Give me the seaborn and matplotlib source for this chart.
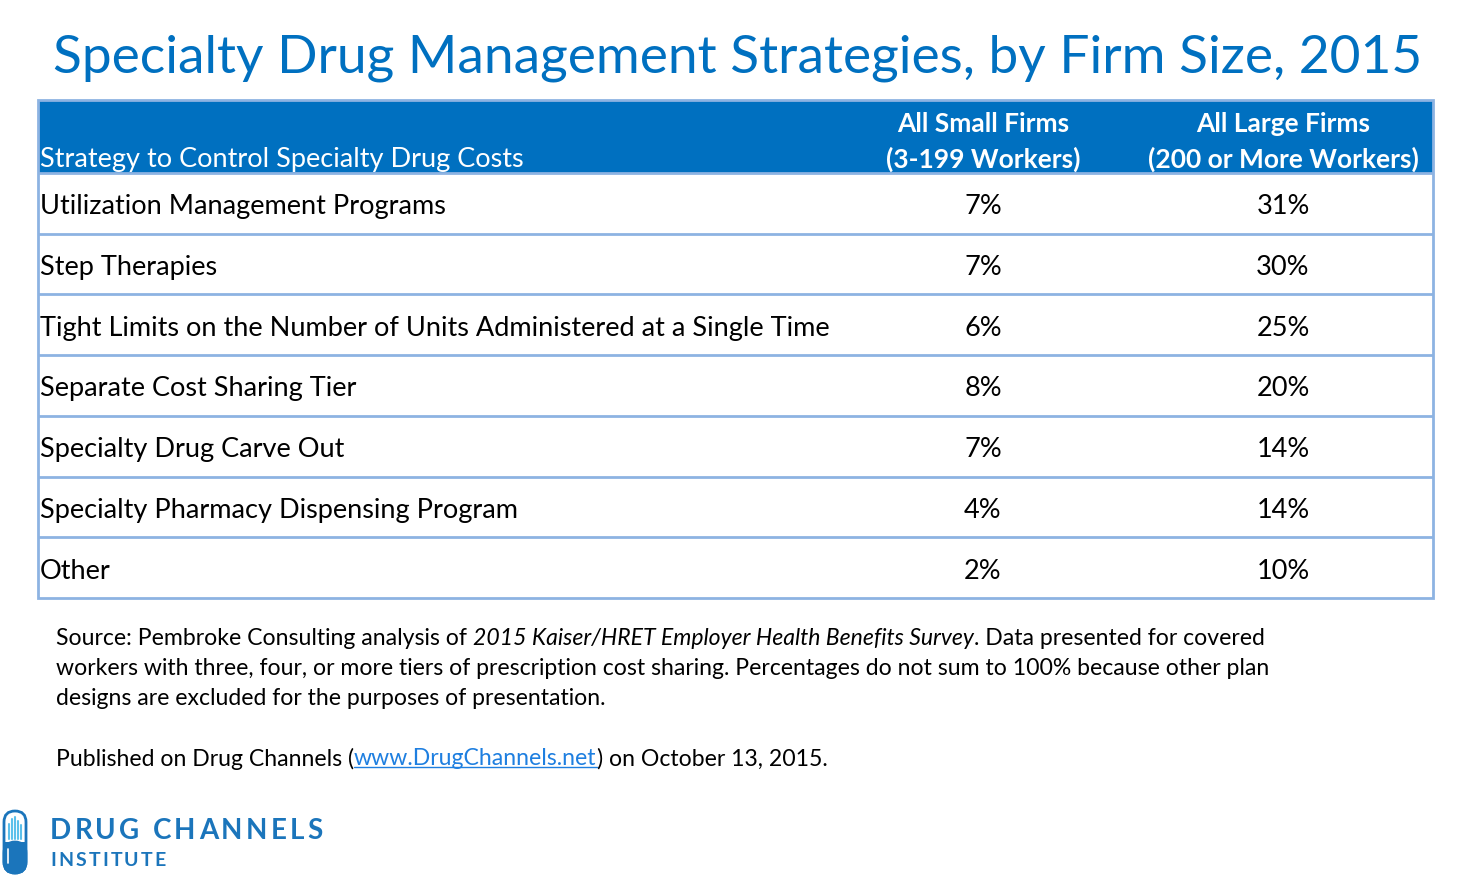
import numpy as np
import pandas as pd
import seaborn as sns
import matplotlib.pyplot as plt
from matplotlib.colors import ListedColormap
from matplotlib.patches import Rectangle, FancyBboxPatch

sns.set_theme(style="white")
plt.rcParams['font.family'] = ['Lato', 'DejaVu Sans']

# data
strategies = ["Utilization Management Programs",
              "Step Therapies",
              "Tight Limits on the Number of Units Administered at a Single Time",
              "Separate Cost Sharing Tier",
              "Specialty Drug Carve Out",
              "Specialty Pharmacy Dispensing Program",
              "Other"]
small_firms = [7, 7, 6, 8, 7, 4, 2]
large_firms = [31, 30, 25, 20, 14, 14, 10]
col_headers = ["All Small Firms\n(3-199 Workers)", "All Large Firms\n(200 or More Workers)"]
first_header = "Strategy to Control Specialty Drug Costs"
title = "Specialty Drug Management Strategies, by Firm Size, 2015"

BLUE = '#0070C0'
EDGE = '#8DB3E2'
W, H = 1480, 878
BODY = 19.5

df = pd.DataFrame({col_headers[0]: small_firms, col_headers[1]: large_firms}, index=strategies)
labels = df.map(lambda v: f"{v}%")

fig = plt.figure(figsize=(W / 100, H / 100), dpi=100)
r = fig.canvas.get_renderer()

# overlay in pixel coords
ov = fig.add_axes([0, 0, 1, 1], zorder=2)
ov.set_xlim(0, W)
ov.set_ylim(H, 0)
ov.axis('off')
ov.patch.set_alpha(0)

# table body via heatmap
tl, tr, ttop, hbot, tbot = 38, 1433, 101, 174, 599
cx0 = 833
ax = fig.add_axes([cx0 / W, 1 - tbot / H, (tr - cx0) / W, (tbot - hbot) / H], zorder=1)
sns.heatmap(df, ax=ax, cmap=ListedColormap(['white']), cbar=False,
            annot=labels.values, fmt='', annot_kws={'size': BODY, 'color': 'black', 'va': 'center_baseline'},
            xticklabels=False, yticklabels=False)
ax.set_xlabel('')
ax.set_ylabel('')
colw = (tr - cx0) / df.shape[1]
xleft = -(cx0 - tl) / colw
for i, name in enumerate(df.index):
    ax.text(xleft + 2 / colw, i + 0.5, name, ha='left', va='center_baseline', fontsize=BODY,
            color='black', clip_on=False)
ax.hlines(np.arange(1, len(df)), xleft, df.shape[1], colors=EDGE, lw=2, clip_on=False)

# header
ov.add_patch(Rectangle((tl, ttop), tr - tl, hbot - ttop, facecolor=BLUE, edgecolor='none'))
ov.add_patch(Rectangle((tl, ttop), tr - tl, tbot - ttop, facecolor='none', edgecolor=EDGE, lw=2))
ov.hlines(hbot, tl, tr, colors=EDGE, lw=2)
ov.text(40, 157, first_header, color='white', fontsize=BODY, ha='left', va='center_baseline')
for j, h in enumerate(df.columns):
    xc = cx0 + colw * (j + 0.5)
    l1, l2 = h.split('\n')
    ov.text(xc, 122, l1, color='white', fontsize=19, fontweight='bold', ha='center', va='center_baseline')
    ov.text(xc, 157, l2, color='white', fontsize=19, fontweight='bold', ha='center', va='center_baseline')

# title
ov.text(738, 54, title, color=BLUE, fontsize=38.3, ha='center', va='center_baseline')

# footnote
fs = 16.6

def run(x, y, pieces):
    for txt, style, col, und in pieces:
        t = ov.text(x, y, txt, fontsize=fs, style=style, color=col, ha='left', va='center_baseline')
        bb = t.get_window_extent(renderer=r)
        if und:
            ov.plot([x, x + bb.width], [y + 11, y + 11], color=col, lw=1)
        x += bb.width

run(56, 637, [("Source: Pembroke Consulting analysis of ", 'normal', 'black', False),
              ("2015 Kaiser/HRET Employer Health Benefits Survey", 'italic', 'black', False),
              (". Data presented for covered", 'normal', 'black', False)])
run(56, 667, [("workers with three, four, or more tiers of prescription cost sharing. Percentages do not sum to 100% because other plan", 'normal', 'black', False)])
run(56, 697, [("designs are excluded for the purposes of presentation.", 'normal', 'black', False)])
run(56, 757, [("Published on Drug Channels (", 'normal', 'black', False),
              ("www.DrugChannels.net", 'normal', '#1E7FE0', True),
              (") on October 13, 2015.", 'normal', 'black', False)])

# logo
LB = '#1B75BB'
ov.add_patch(FancyBboxPatch((4, 812), 22, 62, boxstyle='round,pad=0,rounding_size=11',
                            facecolor='white', edgecolor=LB, lw=2))
ov.add_patch(FancyBboxPatch((4, 843), 22, 31, boxstyle='round,pad=0,rounding_size=11',
                            facecolor=LB, edgecolor=LB, lw=2))
ov.add_patch(Rectangle((4, 843), 22, 12, facecolor=LB, edgecolor='none'))
for bx, by in zip([9, 12, 15, 18, 21], [825, 820, 818, 822, 826]):
    ov.plot([bx, bx], [by, 840], color='#5BC0EB', lw=1.5)
ov.plot([8, 8], [850, 864], color='white', lw=1.2)


def spaced(x, y, txt, size, track):
    for ch in txt:
        t = ov.text(x, y, ch, color=LB, fontsize=size, fontweight='bold',
                    ha='left', va='center')
        x += t.get_window_extent(renderer=r).width + track


spaced(50, 831, "DRUG CHANNELS", 20, 3.2)
spaced(50, 861, "INSTITUTE", 14, 2.2)

fig.savefig('out.png', dpi=100)
